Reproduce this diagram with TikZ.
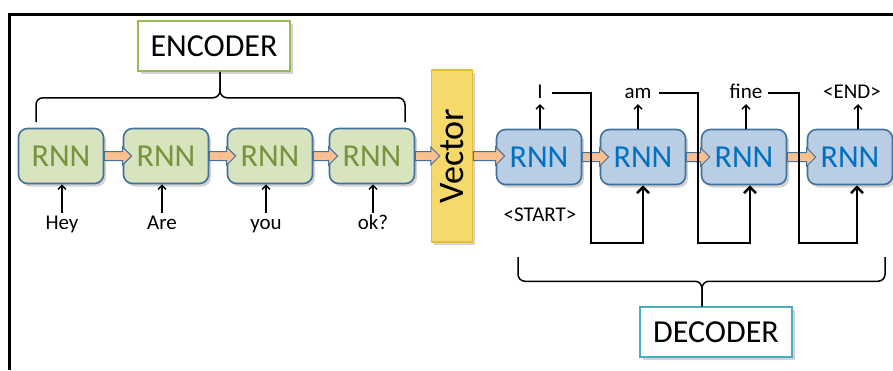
\documentclass[tikz,border=0pt]{standalone}
\usepackage{fontspec}
\setmainfont{Carlito}
\usetikzlibrary{arrows.meta,calc,shadows}
\definecolor{encfill}{HTML}{D7E4BD}\definecolor{enctext}{HTML}{77933C}
\definecolor{decfill}{HTML}{B9CDE5}\definecolor{dectext}{HTML}{0070C0}
\definecolor{boxline}{HTML}{41719C}\definecolor{fatfill}{HTML}{FAC090}
\definecolor{vecfill}{HTML}{F5D96B}\definecolor{vecline}{HTML}{E9BE2E}
\definecolor{encline}{HTML}{9BBB59}\definecolor{decline}{HTML}{4BACC6}
\tikzset{>={Straight Barb[length=4pt,width=8pt]},
 shade/.style={drop shadow={opacity=.35,shadow xshift=2.5pt,shadow yshift=-3pt}},
 rnn/.style={draw=boxline,line width=1.6pt,rounded corners=9pt,minimum width=85pt,minimum height=55pt,font=\fontsize{32}{36}\selectfont,shade},
 rnnenc/.style={rnn,fill=encfill,text=enctext},rnndec/.style={rnn,fill=decfill,text=dectext},
 part/.style={draw,line width=1.5pt,fill=white,minimum width=152pt,minimum height=50pt,font=\fontsize{32}{38}\selectfont,shade},
 word/.style={font=\fontsize{21}{24}\selectfont,text height=15pt,text depth=5pt,inner sep=1pt},
 flow/.style={line width=1.4pt,->},feed/.style={line width=2.6pt,-{Straight Barb[length=6pt,width=12pt]}},
 brace/.style={line width=1.5pt,rounded corners=7pt},fat/.style={draw=boxline,line width=1pt,fill=fatfill}}
\newcommand{\fatarrow}[2]{\draw[fat] let \p1=(#1.east),\p2=(#2.west) in (\x1,\y1+4.5pt)--(\x2,\y1+4.5pt)--(\x2,\y1+9pt)--(\x2+9pt,\y1)--(\x2,\y1-9pt)--(\x2,\y1-4.5pt)--(\x1,\y1-4.5pt)--cycle;}
\begin{document}
\begin{tikzpicture}[x=1pt,y=-1pt]
\useasboundingbox (0,0) rectangle (893,370);
\draw[line width=3pt] (9,370)--(9,14)--(893,14);
\node[part,draw=encline] (enc) at (214,46) {ENCODER};
\node[part,draw=decline] (dec) at (716,332) {DECODER};
\node[rnnenc] (e1) at (61,156) {RNN};\node[rnnenc] (e2) at (166,156) {RNN};
\node[rnnenc] (e3) at (270,156) {RNN};\node[rnnenc] (e4) at (372,156) {RNN};
\node[draw=vecline,fill=vecfill,line width=1.5pt,minimum width=41pt,minimum height=172pt,inner sep=0pt,font=\fontsize{36}{40}\selectfont,shade] (vec) at (452,156) {\rotatebox{90}{Vector}};
\node[rnndec] (d1) at (539,157) {RNN};\node[rnndec] (d2) at (643,157) {RNN};
\node[rnndec] (d3) at (744,157) {RNN};\node[rnndec] (d4) at (850,157) {RNN};
\fatarrow{e1}{e2}\fatarrow{e2}{e3}\fatarrow{e3}{e4}\fatarrow{e4}{vec}
\fatarrow{vec}{d1}\fatarrow{d1}{d2}\fatarrow{d2}{d3}\fatarrow{d3}{d4}
\node[word,anchor=base] (i1) at (62,229) {Hey};\node[word,anchor=base] (i2) at (162,229) {Are};
\node[word,anchor=base] (i3) at (266,229) {you};\node[word,anchor=base] (i4) at (373,229) {ok?};
\foreach \k in {1,...,4} \draw[flow] (i\k.north) -- (i\k.north |- e\k.south);
\node[word,anchor=base] (st) at (540,221) {<START>};
\node[word,anchor=base] (o1) at (540,98) {I};\node[word,anchor=base] (o2) at (638,98) {am};
\node[word,anchor=base] (o3) at (746,98) {fine};\node[word,anchor=base] (o4) at (852,98) {<END>};
\draw[flow] (o1.south |- d1.north) -- (o1.south);\draw[flow] (o2.south |- d2.north) -- (o2.south);
\draw[flow] (o3.south |- d3.north) -- (o3.south);\draw[flow] ($(o4.south |- d4.north)+(6,0)$) -- ($(o4.south)+(6,0)$);
\coordinate (k1) at (591,243);\coordinate (k2) at (698,243);\coordinate (k3) at (799,243);
\draw[feed] ($(o1.east)+(8,0)$) -| (k1) -| (d2.south);
\draw[feed] ($(o2.east)+(6,0)$) -| (k2) -| ($(d3.south)+(6,0)$);
\draw[feed] ($(o3.east)+(4,0)$) -| (k3) -| ($(d4.south)+(7,0)$);
\coordinate (bl1) at (36,122);\coordinate (br1) at (405,122);
\draw[brace] (bl1) |- ($(enc.south)+(6,26)$) -- ($(enc.south)+(6,0)$);
\draw[brace] (br1) |- ($(enc.south)+(6,26)$) -- ($(enc.south)+(6,0)$);
\coordinate (bl2) at (518,257);\coordinate (br2) at (885,257);
\draw[brace] (bl2) |- ($(dec.north)+(-14,-25)$) -- ($(dec.north)+(-14,0)$);
\draw[brace] (br2) |- ($(dec.north)+(-14,-25)$) -- ($(dec.north)+(-14,0)$);
\end{tikzpicture}
\end{document}
